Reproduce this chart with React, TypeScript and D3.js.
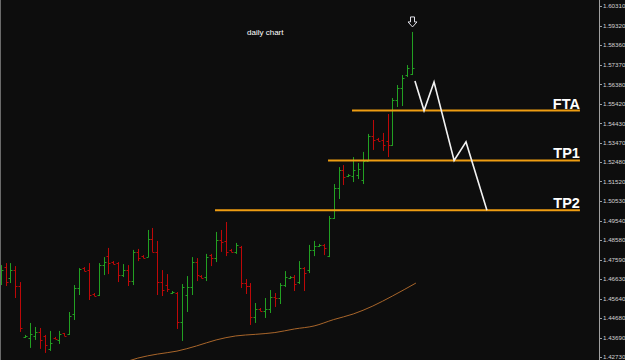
import React from 'react';
import * as d3 from 'd3';

const W = 625;
const H = 360;

// OHLC daily bars (price)
const opens = [
  1.4648, 1.4723, 1.4668, 1.4708, 1.4628, 1.4373, 1.4368, 1.4378, 1.4398, 1.4378,
  1.4313, 1.4368, 1.4358, 1.4393, 1.4388, 1.4488, 1.4618, 1.4718, 1.4708, 1.4588,
  1.4583, 1.4733, 1.4778, 1.4748, 1.4743, 1.4683, 1.4708, 1.4653, 1.4799, 1.4778,
  1.4773, 1.4864, 1.4799, 1.4648, 1.4633, 1.4593, 1.4593, 1.4448, 1.4583, 1.4623,
  1.4748, 1.4678, 1.4673, 1.4783, 1.4768, 1.4859, 1.4854, 1.4809, 1.4799, 1.4824,
  1.4643, 1.4628, 1.4473, 1.4513, 1.4503, 1.4513, 1.4573, 1.4568, 1.4633, 1.4668,
  1.4673, 1.4648, 1.4718, 1.4708, 1.4809, 1.4829, 1.4834, 1.4778, 1.4969, 1.5119,
  1.5209, 1.5179, 1.5179, 1.5184, 1.5159, 1.5254, 1.5380, 1.5365, 1.5360, 1.5355,
  1.5335, 1.5560, 1.5620, 1.5685, 1.5690,
];
const highs = [
  1.4733, 1.4743, 1.4743, 1.4728, 1.4648, 1.4383, 1.4443, 1.4423, 1.4418, 1.4383,
  1.4403, 1.4373, 1.4403, 1.4393, 1.4498, 1.4633, 1.4718, 1.4723, 1.4743, 1.4593,
  1.4743, 1.4773, 1.4819, 1.4753, 1.4748, 1.4738, 1.4733, 1.4809, 1.4814, 1.4783,
  1.4909, 1.4919, 1.4854, 1.4708, 1.4688, 1.4603, 1.4598, 1.4638, 1.4678, 1.4773,
  1.4768, 1.4683, 1.4789, 1.4789, 1.4899, 1.4909, 1.4949, 1.4814, 1.4844, 1.4829,
  1.4663, 1.4643, 1.4543, 1.4518, 1.4568, 1.4608, 1.4593, 1.4643, 1.4703, 1.4678,
  1.4683, 1.4753, 1.4723, 1.4834, 1.4854, 1.4839, 1.4839, 1.4979, 1.5139, 1.5224,
  1.5234, 1.5189, 1.5274, 1.5244, 1.5300, 1.5390, 1.5460, 1.5370, 1.5395, 1.5490,
  1.5570, 1.5635, 1.5685, 1.5735, 1.5901,
];
const lows = [
  1.4633, 1.4628, 1.4643, 1.4568, 1.4398, 1.4368, 1.4318, 1.4358, 1.4313, 1.4293,
  1.4303, 1.4363, 1.4338, 1.4378, 1.4383, 1.4458, 1.4583, 1.4703, 1.4558, 1.4578,
  1.4578, 1.4683, 1.4688, 1.4738, 1.4648, 1.4673, 1.4628, 1.4633, 1.4753, 1.4768,
  1.4773, 1.4799, 1.4583, 1.4578, 1.4598, 1.4588, 1.4413, 1.4353, 1.4498, 1.4583,
  1.4653, 1.4668, 1.4653, 1.4728, 1.4748, 1.4799, 1.4778, 1.4799, 1.4789, 1.4618,
  1.4588, 1.4433, 1.4443, 1.4503, 1.4468, 1.4493, 1.4523, 1.4538, 1.4623, 1.4663,
  1.4603, 1.4638, 1.4603, 1.4693, 1.4778, 1.4824, 1.4783, 1.4773, 1.4964, 1.5064,
  1.5134, 1.5174, 1.5149, 1.5164, 1.5139, 1.5254, 1.5310, 1.5355, 1.5305, 1.5274,
  1.5330, 1.5525, 1.5530, 1.5675, 1.5685,
];
const closes = [
  1.4708, 1.4648, 1.4708, 1.4628, 1.4418, 1.4378, 1.4388, 1.4398, 1.4358, 1.4333,
  1.4343, 1.4363, 1.4388, 1.4378, 1.4478, 1.4618, 1.4713, 1.4703, 1.4583, 1.4578,
  1.4733, 1.4748, 1.4743, 1.4738, 1.4683, 1.4708, 1.4653, 1.4799, 1.4768, 1.4768,
  1.4864, 1.4799, 1.4648, 1.4608, 1.4613, 1.4598, 1.4448, 1.4623, 1.4623, 1.4748,
  1.4683, 1.4668, 1.4773, 1.4768, 1.4859, 1.4849, 1.4799, 1.4799, 1.4834, 1.4643,
  1.4628, 1.4473, 1.4513, 1.4503, 1.4513, 1.4573, 1.4568, 1.4633, 1.4673, 1.4673,
  1.4638, 1.4718, 1.4693, 1.4809, 1.4829, 1.4834, 1.4819, 1.4969, 1.5119, 1.5209,
  1.5174, 1.5184, 1.5209, 1.5214, 1.5254, 1.5380, 1.5360, 1.5355, 1.5335, 1.5335,
  1.5560, 1.5620, 1.5670, 1.5720, 1.5720,
];

// moving average (bar index, value)
const maIndex = [26, 28, 32, 36, 40, 44, 48, 52, 56, 60, 64, 68, 72, 76, 80, 84.8];
const maValues = [
  1.4252, 1.4267, 1.4287, 1.4302, 1.4328, 1.4358, 1.4378, 1.4386,
  1.4395, 1.4413, 1.4428, 1.4460, 1.4488, 1.4528, 1.4578, 1.4643,
];

// right price axis labels
const priceTicks = [
  '1.60310', '1.59320', '1.58360', '1.57370', '1.56380', '1.55420', '1.54430',
  '1.53470', '1.52480', '1.51520', '1.50530', '1.49540', '1.48580', '1.47590',
  '1.46630', '1.45640', '1.44680', '1.43690', '1.42730',
];

// target levels
const levelNames = ['FTA', 'TP1', 'TP2'];
const levelPrices = [1.5507, 1.5257, 1.5008];
const levelStartIndex = [71.75, 66.85, 43.77];
const levelEndIndex = 118.3;

// projected path
const projIndex = [84.6, 86.46, 88.5, 92.6, 95.03, 99.3];
const projPrice = [1.5655, 1.5507, 1.5650, 1.5257, 1.5350, 1.5008];

const title = 'daily chart';

export default function App() {
  const x = d3.scaleLinear().domain([0, 84]).range([0.7, 412]);
  const y = d3.scaleLinear().domain([1.4273, 1.6031]).range([356.9, 6]);

  const px = (i: number) => Math.round(x(i)) + 0.5;

  const maLine = d3
    .line<number>()
    .x((_, i) => x(maIndex[i]))
    .y((v) => y(v))
    .curve(d3.curveMonotoneX);

  const projLine = d3
    .line<number>()
    .x((_, i) => x(projIndex[i]))
    .y((v) => y(v));

  const lastI = opens.length - 1;
  const ax = px(lastI);
  const ay = y(highs[lastI]) - 15;
  const arrowPath = `M${ax - 2},${ay} L${ax + 2},${ay} L${ax + 2},${ay + 5} L${ax + 4.5},${ay + 5} L${ax},${ay + 10} L${ax - 4.5},${ay + 5} L${ax - 2},${ay + 5} Z`;

  const green = '#22a022';
  const red = '#bd0808';

  return (
    <svg
      width={W}
      height={H}
      style={{ position: 'fixed', left: 0, top: 0, display: 'block' }}
    >
      <rect x={0} y={0} width={W} height={H} fill="#0d0d0d" />
      <defs>
        <clipPath id="plot">
          <rect x={0} y={0} width={599} height={H} />
        </clipPath>
      </defs>
      <g clipPath="url(#plot)">
        {/* moving average */}
        <path d={maLine(maValues) || ''} fill="none" stroke="#a8652a" strokeWidth={1} />
        {/* OHLC bars */}
        {opens.map((o, i) => {
          const c = closes[i];
          const col = c >= o ? green : red;
          const xx = px(i);
          return (
            <g key={i} stroke={col} strokeWidth={1}>
              <line x1={xx} x2={xx} y1={y(highs[i])} y2={y(lows[i])} />
              <line x1={xx - 2} x2={xx} y1={Math.round(y(o)) + 0.5} y2={Math.round(y(o)) + 0.5} />
              <line x1={xx} x2={xx + 2} y1={Math.round(y(c)) + 0.5} y2={Math.round(y(c)) + 0.5} />
            </g>
          );
        })}
        {/* target levels */}
        {levelNames.map((n, i) => (
          <line
            key={n}
            x1={x(levelStartIndex[i])}
            x2={x(levelEndIndex)}
            y1={y(levelPrices[i])}
            y2={y(levelPrices[i])}
            stroke="#ee9d12"
            strokeWidth={2}
          />
        ))}
        {levelNames.map((n, i) => (
          <text
            key={n + 't'}
            x={x(levelEndIndex)}
            y={y(levelPrices[i]) - 2}
            textAnchor="end"
            fill="#ffffff"
            fontFamily="'Liberation Sans', Arial, sans-serif"
            fontWeight="bold"
            fontSize={14.5}
          >
            {n}
          </text>
        ))}
        {/* projection */}
        <path d={projLine(projPrice) || ''} fill="none" stroke="#f2f2f2" strokeWidth={1.6} />
        {/* arrow */}
        <path d={arrowPath} fill="none" stroke="#e0e0e8" strokeWidth={1} />
        <text
          x={247}
          y={35}
          fill="#ffffff"
          fontFamily="'Liberation Sans', Arial, sans-serif"
          fontSize={8}
        >
          {title}
        </text>
      </g>
      {/* left border */}
      <line x1={0.5} x2={0.5} y1={0} y2={H} stroke="#6a6a6a" strokeWidth={1} />
      {/* price axis */}
      <line x1={599.5} x2={599.5} y1={0} y2={H} stroke="#a0a0a0" strokeWidth={1} />
      {priceTicks.map((t) => {
        const yy = y(+t);
        return (
          <g key={t}>
            <line x1={599} x2={602} y1={Math.round(yy) + 0.5} y2={Math.round(yy) + 0.5} stroke="#a0a0a0" />
            <text
              x={603}
              y={yy}
              dy="0.35em"
              fill="#d2d2d2"
              fontFamily="'Liberation Sans', Arial, sans-serif"
              fontSize={6.2}
            >
              {t}
            </text>
          </g>
        );
      })}
    </svg>
  );
}
